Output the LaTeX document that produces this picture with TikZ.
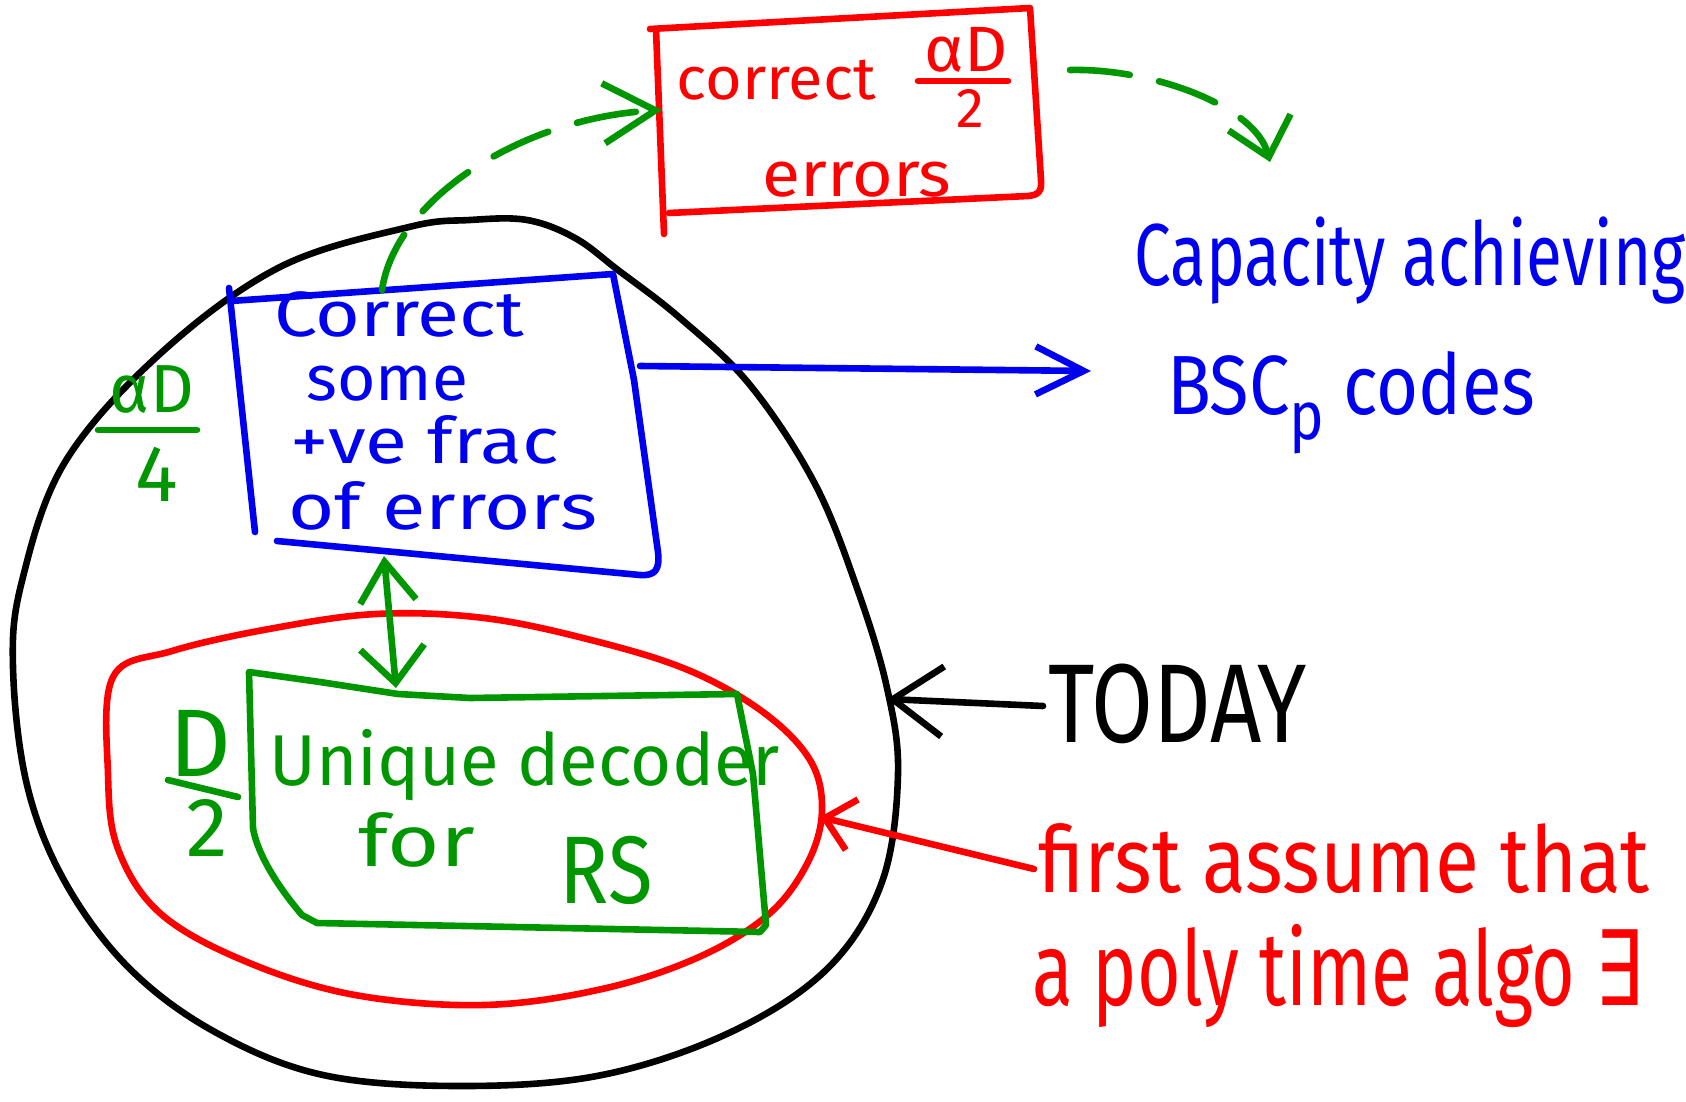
\documentclass[tikz,border=0pt]{standalone}
\usepackage{fontspec}
\usepackage{graphicx}
\setmainfont{Fira Sans}
\newfontfamily\symbolfont{DejaVu Sans}
\usetikzlibrary{arrows.meta}

\definecolor{penred}{RGB}{255,0,0}
\definecolor{penblue}{RGB}{0,0,240}
\definecolor{pengreen}{RGB}{0,150,0}

% horizontal squeeze / stretch of handwritten words
\newcommand\squeeze[2]{\scalebox{#1}[1]{#2}}

\begin{document}
\begin{tikzpicture}[x=0.5pt, y=-0.5pt, line cap=round, line join=round,
  pen/.style={line width=3.3pt},
  redpen/.style={pen, draw=penred},
  bluepen/.style={pen, draw=penblue},
  greenpen/.style={pen, draw=pengreen},
  blackpen/.style={pen, draw=black},
  hw/.style={font=\fontsize{#1}{#1}\selectfont, inner sep=0pt},
  dashpen/.style={dash pattern=on 30pt off 15pt},
  barb/.style 2 args={-{Straight Barb[length=#1pt, width=#2pt]}},
]
\useasboundingbox (0,0) rectangle (1686,1102);

% ---- outer black region
\draw[blackpen] plot[smooth cycle, tension=0.6] coordinates {
  (527,220) (470,220) (409,227) (280,267) (161,353) (65,462) (22,581) (13,667)
  (27,785) (65,882) (129,968) (215,1032) (323,1075) (462,1086) (602,1075)
  (731,1032) (828,968) (882,882) (898,774) (887,688) (858,591) (815,484)
  (750,385) (680,318) (618,270) (575,238)};

% ---- inner red region
\draw[redpen] plot[smooth cycle, tension=0.6] coordinates {
  (113,677) (172,651) (269,629) (376,614) (484,618) (591,640) (688,670)
  (763,712) (810,760) (822,810) (808,862) (769,914) (699,957) (602,989)
  (484,1005) (355,995) (247,962) (161,914) (118,849) (108,774)};

% ---- red box (top)
\draw[redpen] (650,29) -- (1030,8) -- (1041,180)
  .. controls (1042,192) and (1038,195) .. (1028,196) -- (669,213);
\draw[redpen] (656,30) -- (664,234);
\node[hw=30, anchor=base west, text=penred] (rcorrect) at (676,100) {\squeeze{1.05}{correct}};
\node[hw=32, anchor=center, text=penred] (rfracnum) at (966,50) {\squeeze{1.05}{αD}};
\node[hw=28, anchor=center, text=penred] (rfracden) at (970,108) {2};
\draw[redpen] (918,81) -- (1008,81);
\node[hw=32, anchor=base west, text=penred] (rerrors) at (762,196) {\squeeze{1.09}{errors}};

% ---- blue box
\draw[bluepen] (231,301) -- (613,274) -- (634,380) -- (658,552)
  .. controls (660,570) and (655,576) .. (640,575) -- (277,541);
\draw[bluepen] (229,288) -- (255,532);
\node[hw=32, anchor=base west, text=penblue] (b1) at (274,336) {\squeeze{1.2}{Correct}};
\node[hw=32, anchor=base west, text=penblue] (b2) at (306,400) {\squeeze{1.03}{some}};
\node[hw=32, anchor=base west, text=penblue] (b3) at (290,463) {\squeeze{1.2}{+ve frac}};
\node[hw=32, anchor=base west, text=penblue] (b4) at (288,529) {\squeeze{1.24}{of errors}};

% ---- alpha D / 4 label
\node[hw=34, anchor=center, text=pengreen] (qnum) at (152,390) {αD};
\draw[greenpen] (98,430) -- (197,430);
\node[hw=40, anchor=center, text=pengreen] (qden) at (157,474) {4};

% ---- green box
\draw[greenpen] (249,672) -- (320,682) -- (398,694) -- (470,698) -- (538,697)
  -- (737,694) -- (753,774) -- (766,925) -- (760,932) -- (317,923) -- (302,915)
  .. controls (272,880) and (256,848) .. (253,828) -- cycle;
\node[hw=36, anchor=base west, text=pengreen] (g1) at (269,785) {\squeeze{0.98}{Unique decoder}};
\node[hw=36, anchor=base west, text=pengreen] (g2) at (358,866) {\squeeze{1.25}{for}};
\node[hw=48, anchor=base west, text=pengreen] (g3) at (559,903) {\squeeze{0.85}{RS}};

% ---- D / 2 label
\node[hw=48, anchor=center, text=pengreen] (hnum) at (200,743) {D};
\draw[greenpen] (168,780) -- (238,797);
\node[hw=42, anchor=center, text=pengreen] (hden) at (207,828) {2};

% ---- right-hand labels
\node[hw=44, anchor=base west, text=penblue] (cap1) at (1134,285) {\squeeze{0.745}{Capacity achieving}};
\node[hw=42, anchor=base west, text=penblue] (cap2) at (1167,414)
  {\squeeze{0.86}{BSC\raisebox{-0.3em}{\fontsize{34}{34}\selectfont p} codes}};
\node[hw=56, anchor=base west, text=black] (today) at (1048,742) {\squeeze{0.8}{TODAY}};
\node[hw=46, anchor=base west, text=penred] (as1) at (1038,892) {\squeeze{0.875}{first assume that}};
\node[hw=52, anchor=base west, text=penred] (as2) at (1032,1005)
  {\squeeze{0.72}{a poly time algo {\symbolfont ∃}}};

% ---- connector end points
\coordinate (blueTop) at (382,290);
\coordinate (redLeft) at (662,110);
\coordinate (redRight) at (1070,70);
\coordinate (capTop) at (1270,162);
\coordinate (blueRight) at (640,366);
\coordinate (capLeft) at (1091,371);
\coordinate (blueBottom) at (384,556);
\coordinate (greenTop) at (396,688);
\coordinate (todayLeft) at (1043,706);
\coordinate (blackRight) at (887,699);
\coordinate (assumeLeft) at (1034,869);
\coordinate (redEdge) at (820,817);

% ---- connectors
\draw[greenpen, dashpen, barb={26}{30}] (blueTop)
  .. controls (395,200) and (520,118) .. (redLeft);
\draw[greenpen, dashpen, barb={18}{32}] (redRight)
  .. controls (1150,68) and (1255,105) .. (capTop);
\draw[bluepen, barb={24}{24}] (blueRight) -- (capLeft);
\draw[greenpen, {Straight Barb[length=20pt, width=28pt]}-{Straight Barb[length=18pt, width=32pt]}]
  (blueBottom) -- (greenTop);
\draw[blackpen, barb={25}{35}] (todayLeft) -- (blackRight);
\draw[redpen, barb={14}{26}] (assumeLeft) -- (redEdge);
\end{tikzpicture}
\end{document}
